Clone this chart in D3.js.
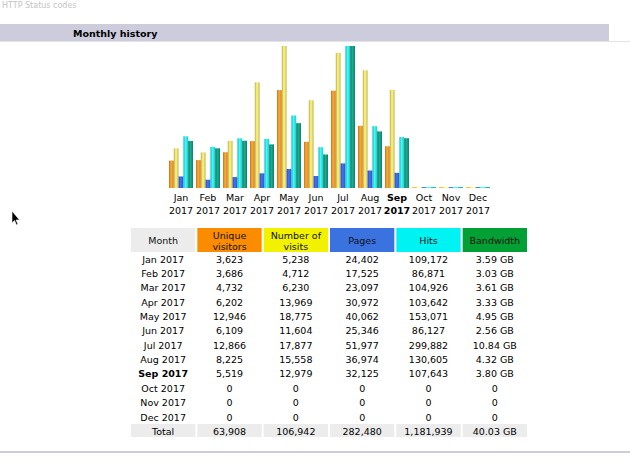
<!DOCTYPE html>
<html><head><meta charset="utf-8">
<script src="https://cdn.jsdelivr.net/npm/d3@7"></script>
<style>body{margin:0;background:#fff}svg{display:block}</style>
</head><body>
<svg id="c" width="630" height="460"></svg>
<script>
const months = ["Jan","Feb","Mar","Apr","May","Jun","Jul","Aug","Sep","Oct","Nov","Dec"];
const year = "2017";
const currentMonth = "Sep";
const visitors = [3623,3686,4732,6202,12946,6109,12866,8225,5519,0,0,0];
const visits = [5238,4712,6230,13969,18775,11604,17877,15558,12979,0,0,0];
const pages = [24402,17525,23097,30972,40062,25346,51977,36974,32125,0,0,0];
const hits = [109172,86871,104926,103642,153071,86127,299882,130605,107643,0,0,0];
const bandwidth = [3.59,3.03,3.61,3.33,4.95,2.56,10.84,4.32,3.80,0,0,0];
const totals = ["63,908","106,942","282,480","1,181,939","40.03 GB"];
const headers = [["Month"],["Unique","visitors"],["Number of","visits"],["Pages"],["Hits"],["Bandwidth"]];

const svg = d3.select("#c");
const font = "DejaVu Sans, Verdana, sans-serif";

// faint top text
svg.append("text").attr("x",2).attr("y",8).attr("font-family",font).attr("font-size",8)
  .attr("fill","#c4c4c4").text("HTTP Status codes");
// section header band
svg.append("rect").attr("x",0).attr("y",24).attr("width",609).attr("height",17).attr("fill","#ccccdd");
svg.append("rect").attr("x",0).attr("y",41).attr("width",630).attr("height",1).attr("fill","#e2e2e8");
svg.append("text").attr("x",73).attr("y",36.5).attr("font-family",font).attr("font-size",9.5)
  .attr("font-weight","bold").attr("fill","#000").text("Monthly history");
// bottom line
svg.append("rect").attr("x",0).attr("y",451).attr("width",630).attr("height",2).attr("fill","#ccccdd");

// gradients
const defs = svg.append("defs");
const barColors = {u:"#f0902a", v:"#e6d268", p:"#3660dc", h:"#2ee2df", k:"#12927a"};
Object.entries(barColors).forEach(([k,c])=>{
  const g = defs.append("linearGradient").attr("id","g"+k).attr("x1","0").attr("x2","1").attr("y1","0").attr("y2","0");
  const col = d3.color(c);
  g.append("stop").attr("offset","0").attr("stop-color",col.darker(0.6));
  g.append("stop").attr("offset","0.45").attr("stop-color",col.brighter(0.5));
  g.append("stop").attr("offset","1").attr("stop-color",col.darker(0.4));
});

// chart scales
const x = d3.scaleBand().domain(months).range([167.5, 167.5+27*12]).paddingInner(0).paddingOuter(0);
const base = 188, maxH = 142;
const yV = d3.scaleLinear().domain([0, d3.max(visits)]).range([0, maxH]);
const yH = d3.scaleLinear().domain([0, d3.max(hits)]).range([0, maxH]);
const yK = d3.scaleLinear().domain([0, d3.max(bandwidth)]).range([0, maxH]);
const series = [
  {key:"u", data:visitors, s:yV},
  {key:"v", data:visits, s:yV},
  {key:"p", data:pages, s:yH},
  {key:"h", data:hits, s:yH},
  {key:"k", data:bandwidth, s:yK}
];
const bw = 4.8;
const inner = d3.scaleBand().domain(series.map(d=>d.key)).range([1.5, 1.5+bw*5]);
series.forEach(sr=>{
  svg.append("g").selectAll("rect").data(months).join("rect")
    .attr("x", m => x(m) + inner(sr.key))
    .attr("width", bw)
    .attr("y", (m,i) => base - Math.max(1, sr.s(sr.data[i])))
    .attr("height", (m,i) => Math.max(1, sr.s(sr.data[i])))
    .attr("fill", (m,i) => sr.data[i] > 0 ? "url(#g"+sr.key+")" : d3.color(barColors[sr.key]).brighter(0.8).formatHex());
});
// month labels
const lab = svg.append("g").attr("font-family",font).attr("font-size",9.5).attr("text-anchor","middle");
months.forEach(m=>{
  const cx = x(m) + x.bandwidth()/2;
  const t = lab.append("text").attr("x",cx).attr("y",201).attr("fill","#000")
    .attr("font-weight", m===currentMonth ? "bold":"normal");
  t.append("tspan").attr("x",cx).attr("dy",0).text(m);
  t.append("tspan").attr("x",cx).attr("dy",13).text(year);
});

// table
const colX = d3.scaleBand().domain(d3.range(6)).range([131, 131+66*6]).paddingInner(0.03).paddingOuter(0);
const headBg = ["#ececec","#fb8c00","#f2f200","#3a72e0","#00f3f3","#00a035"];
headBg.forEach((c,i)=>{
  svg.append("rect").attr("x",colX(i)).attr("y",228).attr("width",colX.bandwidth()).attr("height",24).attr("fill",c);
  const h = headers[i];
  const t = svg.append("text").attr("font-family",font).attr("font-size",9.5).attr("text-anchor","middle")
    .attr("fill","#111");
  const cx = colX(i)+colX.bandwidth()/2;
  if (h.length===1) t.append("tspan").attr("x",cx).attr("y",244).text(h[0]);
  else { t.append("tspan").attr("x",cx).attr("y",239).text(h[0]); t.append("tspan").attr("x",cx).attr("y",250).text(h[1]); }
});
const fmt = d3.format(",");
const rowY = d3.scaleLinear().domain([0,11]).range([262.5, 420.5]);
months.forEach((m,i)=>{
  const cells = [m+" "+year, fmt(visitors[i]), fmt(visits[i]), fmt(pages[i]), fmt(hits[i]),
     bandwidth[i]>0 ? bandwidth[i].toFixed(2)+" GB" : "0"];
  cells.forEach((c,j)=>{
    svg.append("text").attr("x",colX(j)+colX.bandwidth()/2).attr("y",rowY(i))
      .attr("font-family",font).attr("font-size",9.5).attr("text-anchor","middle")
      .attr("font-weight", (j===0 && m===currentMonth)?"bold":"normal").attr("fill","#000").text(c);
  });
});
["Total"].concat(totals).forEach((c,j)=>{
  svg.append("rect").attr("x",colX(j)).attr("y",424).attr("width",colX.bandwidth()).attr("height",13).attr("fill","#ececec");
  svg.append("text").attr("x",colX(j)+colX.bandwidth()/2).attr("y",434.5)
    .attr("font-family",font).attr("font-size",9.5).attr("text-anchor","middle").attr("fill","#000").text(c);
});

// mouse cursor
svg.append("path").attr("d","M12,211 L12,223 L14.5,220.5 L16.5,225 L18,224.3 L16,220 L19.5,220 Z")
  .attr("fill","#000").attr("stroke","#fff").attr("stroke-width",0.6);
</script>
</body></html>
